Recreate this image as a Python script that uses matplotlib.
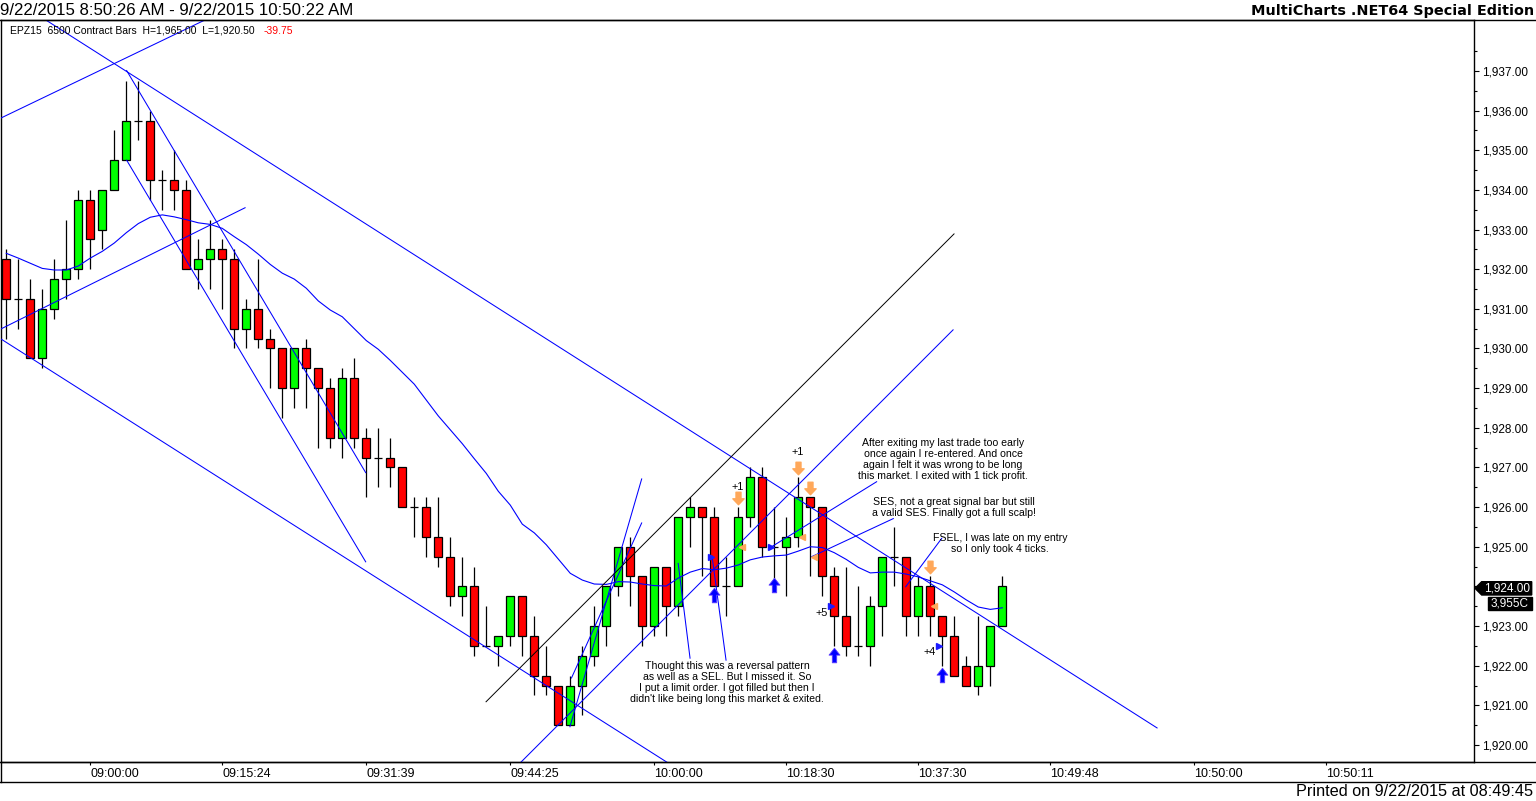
import numpy as np
import matplotlib
matplotlib.use("Agg")
import matplotlib.pyplot as plt
from matplotlib.path import Path
from matplotlib.lines import Line2D
from matplotlib.patches import Polygon, Rectangle

# ---- data (bar index, price) ----
opens = [1932.25, 1931.25, 1931.25, 1929.75, 1931.0, 1931.75, 1932.0, 1933.75, 1933.0, 1934.0,
         1934.75, 1935.75, 1935.75, 1934.25, 1934.25, 1934.0, 1932.0, 1932.25, 1932.5, 1932.25,
         1930.5, 1931.0, 1930.25, 1930.0, 1929.0, 1930.0, 1929.5, 1929.0, 1927.75, 1929.25,
         1927.75, 1927.25, 1927.25, 1927.0, 1926.0, 1926.0, 1925.25, 1924.75, 1923.75, 1924.0,
         1922.5, 1922.5, 1922.75, 1923.75, 1922.75, 1921.75, 1921.5, 1920.5, 1921.5, 1922.25,
         1923.0, 1924.0, 1925.0, 1924.25, 1923.0, 1924.5, 1923.5, 1925.75, 1926.0, 1925.75,
         1924.0, 1924.0, 1925.75, 1926.75, 1925.0, 1925.0, 1925.25, 1926.25, 1926.0, 1924.25,
         1923.25, 1922.5, 1922.5, 1923.5, 1924.75, 1924.75, 1923.25, 1924.0, 1923.25, 1922.75,
         1922.0, 1921.5, 1922.0, 1923.0]
highs = [1932.5, 1932.25, 1931.75, 1931.5, 1932.25, 1933.25, 1934.0, 1934.0, 1934.0, 1935.5,
         1936.75, 1936.75, 1936.0, 1934.5, 1935.0, 1934.25, 1932.75, 1933.25, 1932.75, 1932.5,
         1931.25, 1932.25, 1930.5, 1930.0, 1930.0, 1930.25, 1929.5, 1929.25, 1929.5, 1929.75,
         1928.0, 1928.0, 1927.75, 1927.0, 1926.25, 1926.25, 1926.25, 1925.25, 1924.75, 1924.5,
         1923.5, 1922.75, 1923.75, 1923.75, 1923.25, 1922.5, 1921.5, 1921.75, 1922.5, 1923.5,
         1924.0, 1925.0, 1925.25, 1924.25, 1924.5, 1924.5, 1925.75, 1926.25, 1926.0, 1926.0,
         1924.75, 1926.0, 1927.0, 1927.0, 1926.0, 1925.75, 1926.75, 1926.25, 1926.0, 1924.5,
         1924.5, 1924.0, 1923.75, 1924.75, 1925.5, 1924.75, 1924.25, 1924.25, 1923.25, 1923.25,
         1922.25, 1923.25, 1923.0, 1924.25]
lows = [1930.25, 1930.5, 1929.75, 1929.5, 1930.75, 1931.25, 1931.75, 1932.0, 1932.5, 1934.0,
        1934.75, 1935.25, 1933.75, 1933.5, 1933.5, 1932.0, 1931.5, 1931.5, 1931.0, 1930.0,
        1930.0, 1930.0, 1929.0, 1928.25, 1928.5, 1928.5, 1927.5, 1927.5, 1927.25, 1927.5,
        1926.25, 1926.5, 1926.5, 1926.0, 1925.25, 1924.75, 1924.5, 1923.5, 1923.25, 1922.25,
        1922.5, 1922.0, 1922.5, 1922.25, 1921.25, 1921.25, 1920.5, 1920.5, 1920.75, 1922.0,
        1922.5, 1923.75, 1923.5, 1922.5, 1922.75, 1922.75, 1923.25, 1925.0, 1924.25, 1924.0,
        1923.25, 1924.0, 1925.5, 1924.75, 1924.0, 1923.75, 1925.0, 1924.25, 1923.75, 1922.5,
        1922.25, 1922.25, 1922.0, 1922.75, 1924.0, 1922.75, 1922.75, 1922.75, 1922.0, 1921.75,
        1921.5, 1921.25, 1921.5, 1923.0]
closes = [1931.25, 1931.25, 1929.75, 1931.0, 1931.75, 1932.0, 1933.75, 1932.75, 1934.0, 1934.75,
          1935.75, 1935.75, 1934.25, 1934.25, 1934.0, 1932.0, 1932.25, 1932.5, 1932.25, 1930.5,
          1931.0, 1930.25, 1930.0, 1929.0, 1930.0, 1929.5, 1929.0, 1927.75, 1929.25, 1927.75,
          1927.25, 1927.25, 1927.0, 1926.0, 1926.0, 1925.25, 1924.75, 1923.75, 1924.0, 1922.5,
          1922.5, 1922.75, 1923.75, 1922.75, 1921.75, 1921.5, 1920.5, 1921.5, 1922.25, 1923.0,
          1924.0, 1925.0, 1924.25, 1923.0, 1924.5, 1923.5, 1925.75, 1926.0, 1925.75, 1924.0,
          1924.0, 1925.75, 1926.75, 1925.0, 1925.0, 1925.25, 1926.25, 1926.0, 1924.25, 1923.25,
          1922.5, 1922.5, 1923.5, 1924.75, 1924.75, 1923.25, 1924.0, 1923.25, 1922.75, 1921.75,
          1921.5, 1922.0, 1923.0, 1924.0]
avg_line = [1932.40, 1932.28, 1932.15, 1932.02, 1931.98, 1931.98, 1932.08, 1932.28, 1932.45, 1932.66,
            1932.92, 1933.15, 1933.31, 1933.37, 1933.32, 1933.25, 1933.17, 1933.13, 1933.03, 1932.82,
            1932.62, 1932.38, 1932.12, 1931.90, 1931.75, 1931.52, 1931.20, 1930.97, 1930.80, 1930.50,
            1930.20, 1929.98, 1929.70, 1929.40, 1929.10, 1928.70, 1928.30, 1927.95, 1927.60, 1927.22,
            1926.85, 1926.40, 1926.05, 1925.57, 1925.35, 1925.05, 1924.69, 1924.33, 1924.16, 1924.06,
            1924.05, 1924.12, 1924.11, 1924.06, 1924.02, 1924.01, 1924.21, 1924.36, 1924.45, 1924.42,
            1924.46, 1924.54, 1924.67, 1924.74, 1924.77, 1924.79, 1924.89, 1925.00, 1924.98, 1924.85,
            1924.68, 1924.48, 1924.34, 1924.36, 1924.36, 1924.31, 1924.24, 1924.14, 1924.04, 1923.86,
            1923.66, 1923.48, 1923.42, 1923.46]

# drawn trend lines: (bar0, price0, bar1, price1)
blue_lines = [
    (0.0, 1938.92, 95.9, 1920.43),     # upper channel
    (-0.6, 1930.27, 55.5, 1919.48),    # lower channel
    (-0.6, 1935.79, 17.0, 1938.35),    # rising line top left
    (-0.6, 1930.47, 19.9, 1933.55),    # rising line left
    (10.03, 1937.01, 29.95, 1926.87),  # steep fall A
    (10.03, 1934.75, 29.95, 1924.62),  # steep fall B
    (42.9, 1919.57, 78.9, 1930.47),    # rising channel
    (46.97, 1920.46, 52.95, 1926.71),  # micro channel
    (47.1, 1921.69, 52.95, 1925.60),
]
black_lines = [(39.98, 1921.09, 78.98, 1932.89)]
pointer_lines = [
    (56.98, 1922.19, 55.99, 1924.58),
    (59.98, 1922.14, 58.81, 1924.77),
    (72.53, 1926.64, 63.78, 1925.00),
    (73.92, 1925.71, 67.12, 1924.75),
    (77.95, 1925.21, 74.95, 1923.99),
]

entry_bars = [59, 64, 69, 78]
entry_prices = [1924.75, 1925.0, 1923.5, 1922.5]
buy_arrow_prices = [1923.78, 1924.04, 1922.27, 1921.77]
exit_bars = [61, 66, 67, 77]
exit_prices = [1925.0, 1925.25, 1924.75, 1923.5]
sell_arrow_prices = [1926.22, 1926.98, 1926.47, 1924.50]
profit_labels = ["+1", "+1", "+5", "+4"]
profit_pos = [(60.95, 1926.50), (65.95, 1927.40), (67.95, 1923.34), (76.98, 1922.35)]

notes = [
    (60.06, 1921.58, "Thought this was a reversal pattern\nas well as a SEL. But I missed it. So\n"
                     "I put a limit order. I got filled but then I\ndidn't like being long this market & exited."),
    (78.06, 1927.20, "After exiting my last trade too early\nonce again I re-entered. And once\n"
                     "again I felt it was wrong to be long\nthis market. I exited with 1 tick profit."),
    (78.98, 1926.00, "SES, not a great signal bar but still\na valid SES. Finally got a full scalp!"),
    (82.80, 1925.08, "FSEL, I was late on my entry\nso I only took 4 ticks."),
]

tick_pos = [7, 18, 30, 42, 54, 65, 76, 87, 99, 110]
tick_labels = ["09:00:00", "09:15:24", "09:31:39", "09:44:25", "10:00:00",
               "10:18:30", "10:37:30", "10:49:48", "10:50:00", "10:50:11"]

last_price = 1924.00
volume_label = "3,955C"

# ---- figure ----
W, H = 1536, 801
plt.rcParams['font.family'] = ['Liberation Sans', 'DejaVu Sans']
fig = plt.figure(figsize=(W / 100, H / 100), dpi=100)


def fx(px):
    return px / W


def fy(py):
    return 1 - py / H


ax = fig.add_axes([fx(1), fy(762), fx(1474) - fx(1), fy(20) - fy(762)])
ax.set_xlim(-0.44, 122.31)
ax.set_ylim(1919.571, 1938.285)
for s in ax.spines.values():
    s.set_color('black')
    s.set_linewidth(1.0)

x = np.arange(len(opens))
o = np.array(opens)
c = np.array(closes)
colors = np.where(c > o, '#00ff00', '#ff0000')
ax.vlines(x, lows, highs, color='black', lw=0.9, zorder=3)
ax.bar(x, c - o, bottom=o, width=0.66, color=colors, edgecolor='black', linewidth=0.9, zorder=4)

ax.plot(x, avg_line, color='#0000ff', lw=0.8, zorder=5)
for x0, y0, x1, y1 in blue_lines + pointer_lines:
    ax.plot([x0, x1], [y0, y1], color='#0000ff', lw=0.75, zorder=5)
for x0, y0, x1, y1 in black_lines:
    ax.plot([x0, x1], [y0, y1], color='black', lw=0.7, zorder=5)

# trade markers
up_arrow = Path([(0, 1), (0.75, 0.05), (0.3, 0.05), (0.3, -1), (-0.3, -1), (-0.3, 0.05), (-0.75, 0.05), (0, 1)],
                [Path.MOVETO] + [Path.LINETO] * 6 + [Path.CLOSEPOLY])
down_arrow = Path([(0, -1), (0.9, -0.05), (0.4, -0.05), (0.4, 1), (-0.4, 1), (-0.4, -0.05), (-0.9, -0.05), (0, -1)],
                  [Path.MOVETO] + [Path.LINETO] * 6 + [Path.CLOSEPOLY])
ax.plot(entry_bars, buy_arrow_prices, ls='none', marker=up_arrow, ms=10.5, color='#0000ff',
        mec='#5a3cff', mew=0.6, zorder=7)
ax.plot(exit_bars, sell_arrow_prices, ls='none', marker=down_arrow, ms=9, color='#ffa85a',
        mec='#ffa85a', zorder=7)
ax.plot(np.array(entry_bars) - 0.28, entry_prices, ls='none', marker='>', ms=5, color='#1a1aff', zorder=7)
ax.plot(np.array(exit_bars) + 0.28, exit_prices, ls='none', marker='<', ms=5, color='#ffa85a', zorder=7)
for lab, (px, py) in zip(profit_labels, profit_pos):
    ax.text(px, py, lab, fontsize=7.8, ha='center', va='center', zorder=8)

for nx, ny, txt in notes:
    ax.text(nx, ny, txt, fontsize=7.6, ha='center', va='center', multialignment='center',
            linespacing=1.12, zorder=8)

# axes ticks
ax.yaxis.tick_right()
ax.set_yticks(np.arange(1920, 1938))
ax.set_yticklabels([f"{v:,.2f}" for v in np.arange(1920, 1938)])
ax.set_yticks(np.arange(1920.5, 1938, 1.0), minor=True)
ax.tick_params(axis='y', which='major', direction='out', length=3.5, width=0.8, pad=2.5, labelsize=8.5)
ax.tick_params(axis='y', which='minor', direction='out', length=2.2, width=0.8)
ax.set_xticks(tick_pos)
ax.set_xticklabels(tick_labels, ha='left')
ax.tick_params(axis='x', direction='out', length=2.5, width=0.8, pad=2, labelsize=9)

# frame pieces outside the plot area
for (x0, y0, x1, y1) in [(0, 20, W, 20), (0, 762, W, 762), (0, 782, W, 782), (1, 762, 1, 782)]:
    fig.add_artist(Line2D([fx(x0), fx(x1)], [fy(y0), fy(y1)], color='black', lw=1.0))

# last price boxes
box = Polygon([(fx(1475), fy(588.3)), (fx(1481.7), fy(581.7)), (fx(1531.7), fy(581.7)),
               (fx(1531.7), fy(595)), (fx(1481.7), fy(595))], closed=True,
              transform=fig.transFigure, color='black')
fig.add_artist(box)
fig.text(fx(1507), fy(588.5), f"{last_price:,.2f}", color='white', fontsize=8.5, ha='center', va='center')
fig.add_artist(Rectangle((fx(1488.3), fy(610)), fx(1531.7) - fx(1488.3), fy(596.7) - fy(610),
                         transform=fig.transFigure, color='black'))
fig.text(fx(1510), fy(603.5), volume_label, color='white', fontsize=8.5, ha='center', va='center')

# header / footer
fig.text(fx(0), fy(10.5), "9/22/2015 8:50:26 AM - 9/22/2015 10:50:22 AM", fontsize=12.1,
         ha='left', va='center')
fig.text(fx(1534), fy(10.5), "MultiCharts .NET64 Special Edition", fontsize=10.4,
         fontweight='bold', family='DejaVu Sans', ha='right', va='center')
fig.text(fx(10), fy(30.5), "EPZ15  6500 Contract Bars  H=1,965.00  L=1,920.50", fontsize=7.5,
         ha='left', va='center')
fig.text(fx(264), fy(30.5), "-39.75", fontsize=7.5, color='#ff0000', ha='left', va='center')
fig.text(fx(1533), fy(792), "Printed on 9/22/2015 at 08:49:45", fontsize=11.7, ha='right', va='center')

fig.savefig("out.png", dpi=100)
